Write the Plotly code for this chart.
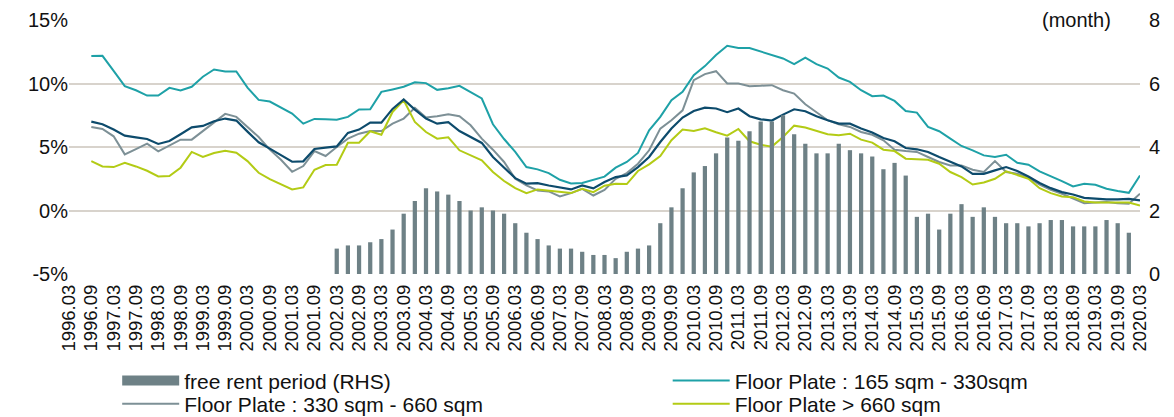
import plotly.graph_objects as go

# quarterly category labels 1996.03 ... 2020.03
periods = []
for yr in range(1996, 2021):
    for mo in ["03", "06", "09", "12"]:
        periods.append(f"{yr}.{mo}")
        if yr == 2020:
            break
tick_labels = [p for p in periods if p.endswith(".03") or p.endswith(".09")]

line_periods = periods[2:]    # 1996.09 ... 2020.03
bar_periods = periods[24:96]  # 2002.03 ... 2019.12

left_ticks = [-5, 0, 5, 10, 15]
left_tick_text = ["-5%", "0%", "5%", "10%", "15%"]
right_ticks = [0, 2, 4, 6, 8]

fp_165_330 = [12.16, 12.18, 11.0, 9.79, 9.47, 9.05, 9.05, 9.66, 9.45, 9.74, 10.53, 11.1, 10.95, 10.95,
              9.68, 8.71, 8.58, 8.08, 7.63, 6.84, 7.21, 7.18, 7.14,
              7.37, 7.95, 7.97, 9.34, 9.53, 9.74, 10.1, 10.03, 9.5, 9.63, 9.82, 9.32, 8.82, 6.79, 5.63,
              4.61, 3.42, 3.24, 2.95, 2.42, 2.13, 2.16, 2.42, 2.67,
              3.37, 3.82, 4.53, 6.32, 7.37, 8.68, 9.34, 10.66, 11.37, 12.24, 12.97, 12.79, 12.79, 12.5,
              12.24, 11.97, 11.53, 12.03, 11.53, 11.18, 10.47, 10.13, 9.47, 9.0,
              9.05, 8.63, 7.84, 7.71, 6.58, 6.24, 5.66, 5.08, 4.74, 4.34, 4.21, 4.39, 3.76, 3.61, 3.08,
              2.71, 2.32, 1.89, 2.11, 2.03, 1.71, 1.53, 1.39, 2.76]
fp_330_660 = [6.58, 6.42, 5.84, 4.42, 4.84, 5.26, 4.66, 5.13, 5.58, 5.58, 6.26, 6.92, 7.61, 7.37, 6.58,
              5.79, 4.79, 4.0, 3.05, 3.5, 4.68, 4.29, 5.0,
              5.66, 6.05, 6.26, 6.26, 6.84, 7.24, 8.08, 7.32, 7.42, 7.58, 7.42, 6.71, 5.66, 4.79, 3.82,
              2.5, 1.97, 1.58, 1.5, 1.11, 1.37, 1.71, 1.18, 1.62,
              2.5, 2.95, 3.68, 4.74, 6.45, 7.11, 7.89, 10.26, 10.74, 10.97, 10.0, 10.0, 9.79, 9.82, 9.87,
              9.47, 9.21, 8.37, 7.76, 7.11, 6.79, 6.58, 6.18, 5.96,
              5.53, 4.79, 4.68, 4.61, 4.21, 3.82, 3.55, 3.55, 3.21, 3.03, 3.89, 3.03, 2.89, 2.58, 2.03,
              1.63, 1.32, 0.97, 0.58, 0.63, 0.66, 0.58, 0.53, 1.32]
fp_660_plus = [3.89, 3.47, 3.42, 3.76, 3.47, 3.13, 2.68, 2.71, 3.37, 4.61, 4.21, 4.53, 4.71, 4.55, 3.89,
               2.97, 2.47, 2.05, 1.66, 1.82, 3.21, 3.58, 3.6,
               5.34, 5.34, 6.24, 5.97, 7.76, 8.68, 6.97, 6.18, 5.66, 5.76, 4.74, 4.34, 3.95, 3.03, 2.32,
               1.76, 1.37, 1.66, 1.58, 1.45, 1.37, 1.71, 1.45, 1.95,
               2.11, 2.08, 3.11, 3.63, 4.29, 5.53, 6.37, 6.26, 6.47, 6.16, 5.89, 6.42, 5.45, 5.18, 5.03,
               5.79, 6.68, 6.53, 6.24, 6.0, 5.92, 6.05, 5.58, 5.35,
               4.79, 4.68, 4.08, 4.05, 4.0, 3.68, 3.03, 2.63, 2.05, 2.21, 2.5, 3.08, 2.82, 2.5, 1.76,
               1.37, 1.11, 1.05, 0.71, 0.63, 0.63, 0.61, 0.63, 0.39]
fp_all = [7.0, 6.79, 6.37, 5.89, 5.76, 5.63, 5.24, 5.47, 6.0, 6.55, 6.66, 7.03, 7.24, 7.08, 6.21, 5.37,
          4.87, 4.34, 3.84, 3.87, 4.84, 4.95, 5.05,
          6.11, 6.37, 6.92, 6.92, 8.0, 8.74, 7.95, 7.24, 6.84, 6.95, 6.26, 5.79, 5.32, 4.21, 3.42, 2.55,
          2.11, 2.16, 1.97, 1.79, 1.66, 1.97, 1.74, 2.24,
          2.63, 2.76, 3.42, 4.21, 5.39, 6.45, 7.32, 7.84, 8.1, 8.03, 7.74, 8.03, 7.42, 7.18, 7.08, 7.55,
          7.97, 7.82, 7.42, 7.11, 6.84, 6.84, 6.45, 6.15,
          5.71, 5.45, 4.92, 4.82, 4.61, 4.21, 3.82, 3.47, 2.89, 2.89, 3.16, 3.42, 3.11, 2.68, 2.16, 1.76,
          1.45, 1.26, 1.0, 0.92, 0.87, 0.87, 0.92, 0.79]
free_rent = [0.8, 0.9, 0.9, 1.0, 1.1, 1.4, 1.9, 2.3, 2.7, 2.6, 2.5, 2.3, 2.0, 2.1, 2.0, 1.9, 1.6, 1.3,
             1.1, 0.9, 0.8, 0.8, 0.7, 0.6, 0.6,
             0.5, 0.7, 0.8, 0.9, 1.6, 2.1, 2.7, 3.2, 3.4, 3.8, 4.3, 4.2, 4.5, 4.8, 4.8, 5.0, 4.4, 4.1,
             3.8, 3.8, 4.1, 3.9, 3.8, 3.7,
             3.3, 3.5, 3.1, 1.8, 1.9, 1.4, 1.9, 2.2, 1.8, 2.1, 1.8, 1.6, 1.6, 1.5, 1.6, 1.7, 1.7, 1.5,
             1.5, 1.5, 1.7, 1.6, 1.3]

FONT = "Liberation Sans, Arial, sans-serif"
BAR_COLOR = "#6E8186"
fig = go.Figure()
fig.add_trace(go.Bar(x=bar_periods, y=free_rent, name="free rent period (RHS)", yaxis="y2",
                     marker=dict(color=BAR_COLOR, line=dict(width=0)), width=0.38,
                     showlegend=False))
fig.add_trace(go.Scatter(x=line_periods, y=fp_165_330, name="Floor Plate : 165 sqm - 330sqm",
                         mode="lines", line=dict(color="#1EA1A7", width=2), legend="legend2"))
fig.add_trace(go.Scatter(x=line_periods, y=fp_330_660, name="Floor Plate : 330 sqm - 660 sqm",
                         mode="lines", line=dict(color="#7D9096", width=2), legend="legend3"))
fig.add_trace(go.Scatter(x=line_periods, y=fp_660_plus, name="Floor Plate > 660 sqm",
                         mode="lines", line=dict(color="#B3CB15", width=2), legend="legend4"))
fig.add_trace(go.Scatter(x=line_periods, y=fp_all, name="Average", showlegend=False,
                         mode="lines", line=dict(color="#0D4B6C", width=2.2)))
# legend key for the bar series (wide rectangle like the original)
fig.add_trace(go.Scatter(x=[None], y=[None], name="free rent period (RHS)", mode="lines",
                         line=dict(color=BAR_COLOR, width=11), legend="legend", yaxis="y2"))

legend_common = dict(orientation="v", xanchor="left", yanchor="middle",
                     itemwidth=57, font=dict(size=21), tracegroupgap=0,
                     bgcolor="rgba(0,0,0,0)")
COL1, COL2 = 0.045, 0.559
ROW1, ROW2 = -0.421, -0.512

fig.update_layout(
    width=1174, height=417,
    margin=dict(l=69, r=34, t=20, b=143, autoexpand=False),
    paper_bgcolor="white", plot_bgcolor="white",
    font=dict(family=FONT, size=20, color="#111111"),
    showlegend=True,
    legend=dict(x=COL1, y=ROW1, **legend_common),
    legend2=dict(x=COL2, y=ROW1, **legend_common),
    legend3=dict(x=COL1, y=ROW2, **legend_common),
    legend4=dict(x=COL2, y=ROW2, **legend_common),
    xaxis=dict(type="category", categoryorder="array", categoryarray=periods,
               range=[0, 96], tickmode="array", tickvals=tick_labels, ticktext=tick_labels,
               tickangle=-90, tickfont=dict(size=18.5), showgrid=False, showline=False,
               ticks="", zeroline=False, ticklabelstandoff=6),
    yaxis=dict(range=[-5, 15], tickmode="array", tickvals=left_ticks, ticktext=left_tick_text,
               showgrid=True, gridcolor="#D8D3CC", gridwidth=2, zeroline=False, ticks="",
               tickfont=dict(size=20)),
    yaxis2=dict(range=[0, 8], tickmode="array", tickvals=right_ticks, overlaying="y", side="right",
                showgrid=False, zeroline=False, ticks="", tickfont=dict(size=20),
                ticklabelstandoff=8),
    annotations=[dict(text="(month)", xref="paper", yref="paper", x=0.975, y=1.0,
                      xanchor="right", yanchor="middle", showarrow=False,
                      font=dict(size=20), bgcolor="white")],
)
fig.write_html("out.html")
